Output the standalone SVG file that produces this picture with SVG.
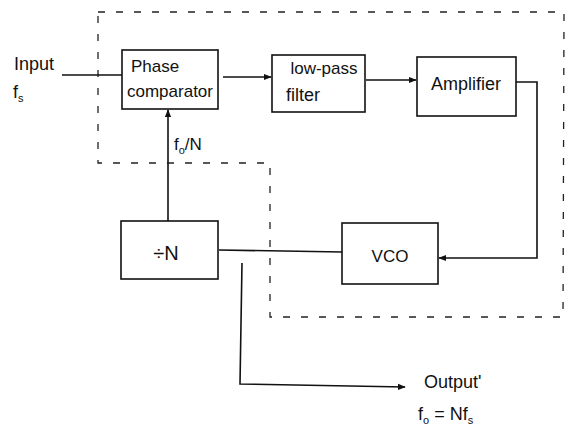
<svg xmlns="http://www.w3.org/2000/svg" width="566" height="430" viewBox="0 0 566 430">
<defs>
<style>
.box{fill:#fff;stroke:#111;stroke-width:1.6}
.ln{fill:none;stroke:#111;stroke-width:1.6}
.dash{fill:none;stroke:#222;stroke-width:1.3;stroke-dasharray:7 11}
text{font-family:"Liberation Sans",Arial,sans-serif;fill:#111;font-size:17px}
.sub{font-size:11px}
</style>
<marker id="ah" viewBox="0 0 10 10" refX="9" refY="5" markerWidth="8" markerHeight="8" orient="auto" markerUnits="userSpaceOnUse">
<path d="M0,1 L10,5 L0,9 Z" fill="#111"/>
</marker>
</defs>
<rect width="566" height="430" fill="#fff"/>
<g id="boundary">
<path class="dash" d="M98,12 L564,12 L563,317 L270,317 L270,163 L98,163 Z"/>
</g>
<g id="connectors">
<path class="ln" d="M62,75 L122,75"/>
<path class="ln" d="M223,77 L271,77" marker-end="url(#ah)"/>
<path class="ln" d="M366,80 L416,80" marker-end="url(#ah)"/>
<path class="ln" d="M516,82 L537,82 L537,258 L439,258" marker-end="url(#ah)"/>
<path class="ln" d="M342,252 L219,250"/>
<path class="ln" d="M168,221 L168,110" marker-end="url(#ah)"/>
<path class="ln" d="M242,263 L240,384 L405,387" marker-end="url(#ah)"/>
</g>
<g id="input">
<text x="14" y="70" style="font-size:18px">Input</text>
<text x="13" y="98" style="font-size:18px">f<tspan class="sub" dy="4">s</tspan></text>
</g>
<g id="phase-comparator">
<rect class="box" x="122" y="50" width="96" height="59"/>
<text x="155" y="72" text-anchor="middle">Phase</text>
<text x="170" y="97" text-anchor="middle">comparator</text>
</g>
<g id="low-pass-filter">
<rect class="box" x="272" y="55" width="93" height="57"/>
<text x="324" y="74" text-anchor="middle">low-pass</text>
<text x="286" y="101" style="font-size:18px">filter</text>
</g>
<g id="amplifier">
<rect class="box" x="417" y="57" width="99" height="59"/>
<text x="466" y="90" text-anchor="middle" style="font-size:18px">Amplifier</text>
</g>
<g id="vco">
<rect class="box" x="342" y="223" width="96" height="61"/>
<text x="390" y="262" text-anchor="middle" style="font-size:17px">VCO</text>
</g>
<g id="divider">
<rect class="box" x="121" y="221" width="97" height="58"/>
<text x="166" y="260" text-anchor="middle" style="font-size:20px">÷N</text>
</g>
<g id="labels">
<text x="174" y="150">f<tspan class="sub" dy="4">o</tspan><tspan dy="-4">/N</tspan></text>
<text x="424" y="388" style="font-size:18px">Output'</text>
<text x="418" y="420" style="font-size:18px">f<tspan class="sub" dy="4">o</tspan><tspan dy="-4"> = Nf</tspan><tspan class="sub" dy="4">s</tspan></text>
</g>
</svg>
